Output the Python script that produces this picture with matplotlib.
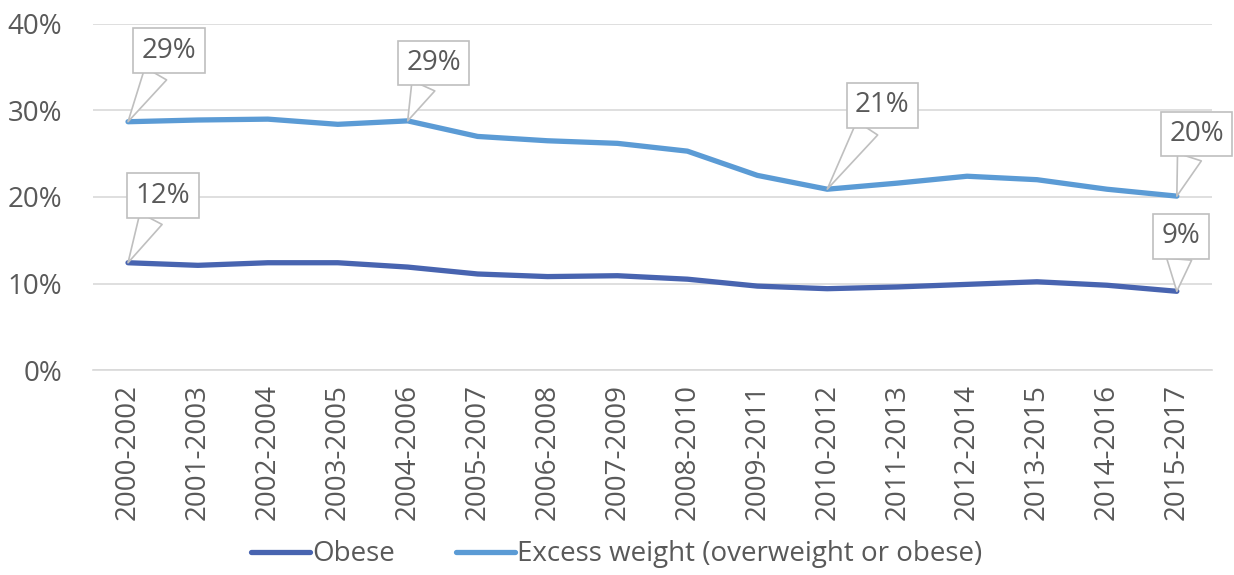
import numpy as np
import matplotlib.pyplot as plt

periods = ['2000-2002', '2001-2003', '2002-2004', '2003-2005', '2004-2006',
           '2005-2007', '2006-2008', '2007-2009', '2008-2010', '2009-2011',
           '2010-2012', '2011-2013', '2012-2014', '2013-2015', '2014-2016',
           '2015-2017']
obese = [12.4, 12.1, 12.4, 12.4, 11.9, 11.1, 10.8, 10.9, 10.5, 9.7,
         9.4, 9.6, 9.9, 10.2, 9.8, 9.1]
excess = [28.7, 28.9, 29.0, 28.4, 28.8, 27.0, 26.5, 26.2, 25.3, 22.5,
          20.9, 21.6, 22.4, 22.0, 20.9, 20.1]

# labelled points: (series index, point index, label, offset in pixels)
callouts = [(1, 0, '29%', (41, 71)), (1, 4, '29%', (26, 58)),
            (1, 10, '21%', (55, 84)), (1, 15, '20%', (20, 62)),
            (0, 0, '12%', (35, 67)), (0, 15, '9%', (4, 55))]

plt.rcParams['font.family'] = ['Open Sans', 'DejaVu Sans']
txt = '#595959'
fs = 20

fig = plt.figure(figsize=(12.34, 5.75), dpi=100)
ax = fig.add_axes([0.0754, 0.3565, 0.9066, 0.6018])

x = np.arange(len(periods))
series = [obese, excess]
l1, = ax.plot(x, obese, color='#4864B0', lw=3.8, solid_capstyle='round',
              label='Obese')
l2, = ax.plot(x, excess, color='#5B9BD5', lw=3.8, solid_capstyle='round',
              label='Excess weight (overweight or obese)')

for s, i, lab, off in callouts:
    ax.annotate(lab, (x[i], series[s][i]), xytext=off, textcoords='offset pixels',
                ha='center', va='center', fontsize=fs, color=txt,
                bbox=dict(boxstyle='square,pad=0.3', fc='white', ec='#bfbfbf', lw=1.2),
                arrowprops=dict(arrowstyle='wedge,tail_width=0.9,shrink_factor=0.5',
                                fc='white', ec='#bfbfbf', lw=1.2,
                                shrinkA=0, shrinkB=0),
                zorder=5)

ax.set_xlim(-0.5, len(periods) - 0.5)
ax.set_ylim(0, 40)
ax.set_yticks([0, 10, 20, 30, 40])
ax.set_yticklabels([f'{v}%' for v in [0, 10, 20, 30, 40]])
ax.set_xticks(x)
ax.set_xticklabels(periods, rotation=90)
ax.tick_params(axis='both', length=0, labelsize=fs, labelcolor=txt)
ax.tick_params(axis='y', pad=22)
ax.tick_params(axis='x', pad=10)
ax.grid(axis='y', color='#d9d9d9', lw=1.2)
ax.set_axisbelow(True)
for sp in ['left', 'right', 'top']:
    ax.spines[sp].set_visible(False)
ax.spines['bottom'].set_color('#d9d9d9')
ax.spines['bottom'].set_linewidth(1.2)

fig.legend(handles=[l1, l2], loc='center', bbox_to_anchor=(0.5, 0.036),
           ncol=2, frameon=False, fontsize=fs, labelcolor=txt,
           handlelength=2.1, handletextpad=0.1, columnspacing=2.2,
           borderpad=0.1)

fig.savefig('out.png', dpi=100)
